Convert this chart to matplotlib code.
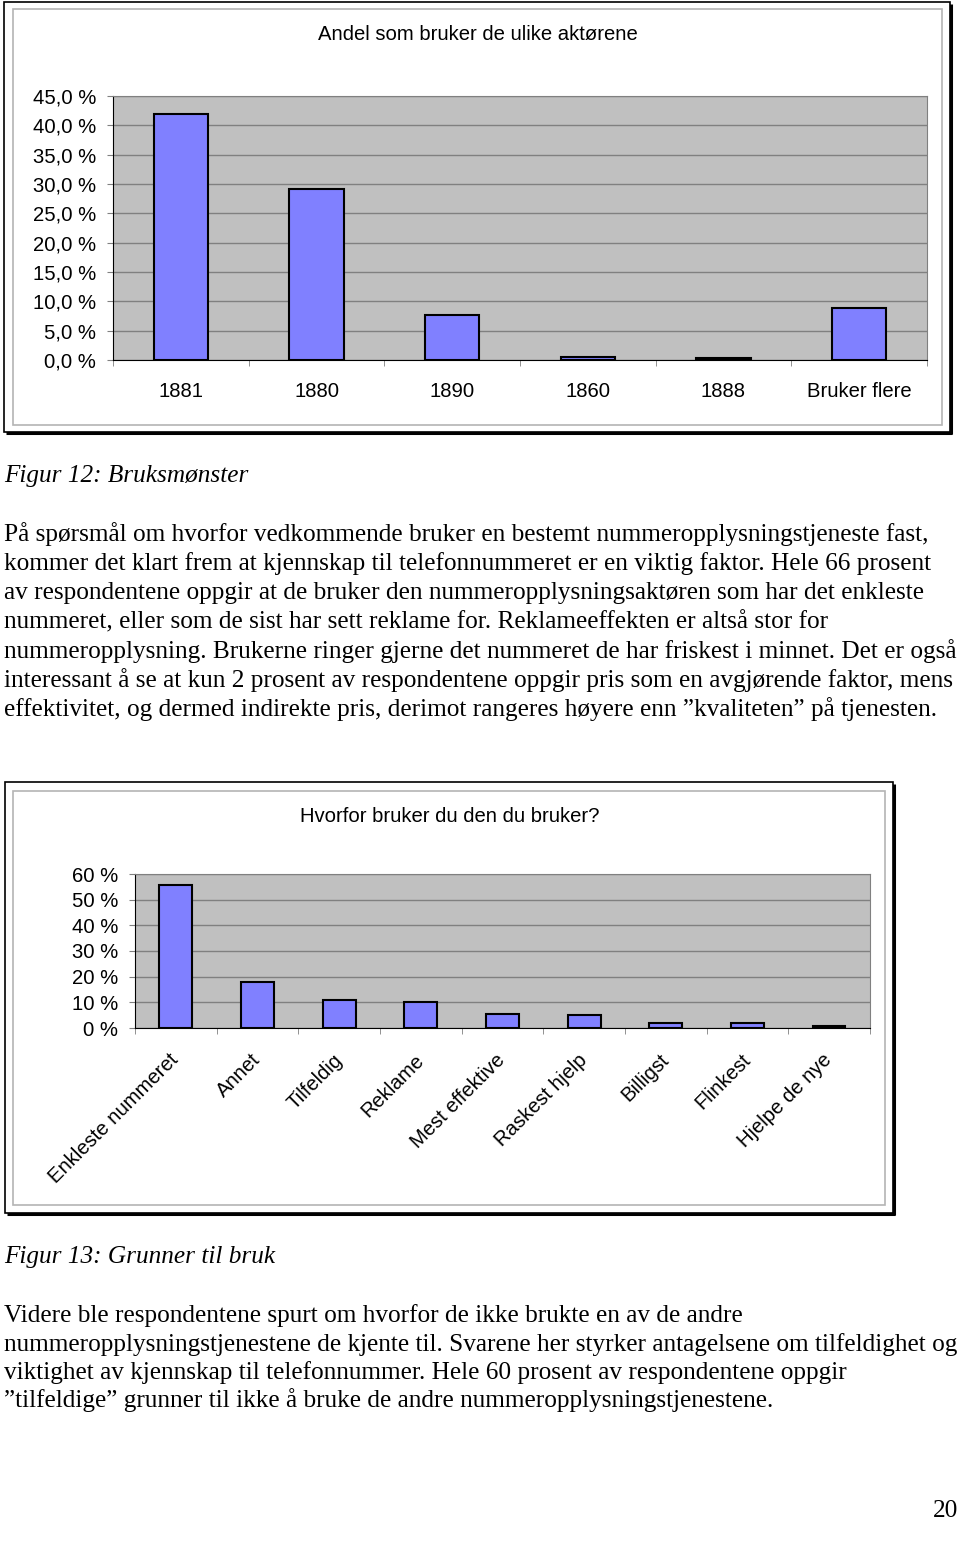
import matplotlib
matplotlib.use('Agg')
import matplotlib.pyplot as plt
from matplotlib.patches import Rectangle
import numpy as np

W, H = 960, 1547

# Figur 12: andel som bruker de ulike aktørene
aktorer = ['1881', '1880', '1890', '1860', '1888', 'Bruker flere']
andel = [42.0, 29.1, 7.6, 0.5, 0.3, 8.9]
andel_ticks = [0, 5, 10, 15, 20, 25, 30, 35, 40, 45]

# Figur 13: hvorfor bruker du den du bruker
grunner = ['Enkleste nummeret', 'Annet', 'Tilfeldig', 'Reklame', 'Mest effektive',
           'Raskest hjelp', 'Billigst', 'Flinkest', 'Hjelpe de nye']
grunner_andel = [55.6, 17.9, 11.0, 10.0, 5.3, 4.9, 1.9, 1.9, 0.6]
grunner_ticks = [0, 10, 20, 30, 40, 50, 60]

tekst1 = [
    'På spørsmål om hvorfor vedkommende bruker en bestemt nummeropplysningstjeneste fast,',
    'kommer det klart frem at kjennskap til telefonnummeret er en viktig faktor. Hele 66 prosent',
    'av respondentene oppgir at de bruker den nummeropplysningsaktøren som har det enkleste',
    'nummeret, eller som de sist har sett reklame for. Reklameeffekten er altså stor for',
    'nummeropplysning. Brukerne ringer gjerne det nummeret de har friskest i minnet. Det er også',
    'interessant å se at kun 2 prosent av respondentene oppgir pris som en avgjørende faktor, mens',
    'effektivitet, og dermed indirekte pris, derimot rangeres høyere enn \u201dkvaliteten\u201d på tjenesten.',
]
tekst2 = [
    'Videre ble respondentene spurt om hvorfor de ikke brukte en av de andre',
    'nummeropplysningstjenestene de kjente til. Svarene her styrker antagelsene om tilfeldighet og',
    'viktighet av kjennskap til telefonnummer. Hele 60 prosent av respondentene oppgir',
    '\u201dtilfeldige\u201d grunner til ikke å bruke de andre nummeropplysningstjenestene.',
]

SANS = 'Liberation Sans'
SERIF = 'Liberation Serif'
FS_CHART = 14.6
FS_BODY = 18.2

fig = plt.figure(figsize=(W / 100, H / 100), dpi=100)

# page layer in pixel coordinates
page = fig.add_axes([0, 0, 1, 1], zorder=0)
page.set_xlim(0, W)
page.set_ylim(H, 0)
page.axis('off')


def frame(l, t, r, b, il, it, ir, ib):
    page.add_patch(Rectangle((l, t), r - l, b - t, fill=False, ec='black', lw=1.2))
    page.plot([r + 1, r + 1], [t + 2, b + 2], color='black', lw=2.2, solid_capstyle='butt')
    page.plot([l + 2, r + 2], [b + 1, b + 1], color='black', lw=2.2, solid_capstyle='butt')
    page.add_patch(Rectangle((il, it), ir - il, ib - it, fill=False, ec='#b4b4b4', lw=1.2))


def bar_chart(l, t, r, b, cats, vals, ticks, fmt, rotate):
    ax = fig.add_axes([l / W, 1 - b / H, (r - l) / W, (b - t) / H], zorder=2)
    ax.set_facecolor('#C0C0C0')
    x = np.arange(len(cats))
    ax.bar(x, vals, width=0.4, color='#8080FF', edgecolor='black', linewidth=1.5, zorder=3)
    ax.set_xlim(-0.5, len(cats) - 0.5)
    ax.set_ylim(ticks[0], ticks[-1])
    ax.set_yticks(ticks)
    ax.set_yticklabels([fmt(v) for v in ticks], fontfamily=SANS, fontsize=FS_CHART)
    ax.yaxis.grid(True, color='#808080', lw=1)
    ax.set_axisbelow(True)
    ax.set_xticks(x)
    ax.set_xticks(np.arange(len(cats) + 1) - 0.5, minor=True)
    if rotate:
        ax.set_xticklabels(cats, fontfamily=SANS, fontsize=FS_CHART, rotation=45,
                           ha='right', va='center', rotation_mode='anchor')
        ax.tick_params(axis='x', which='major', length=0, pad=21)
    else:
        ax.set_xticklabels(cats, fontfamily=SANS, fontsize=FS_CHART)
        ax.tick_params(axis='x', which='major', length=0, pad=16)
    ax.tick_params(axis='x', which='minor', length=4, color='#808080')
    ax.tick_params(axis='y', length=4, color='#808080', pad=8)
    for s in ['top', 'right']:
        ax.spines[s].set_color('#808080')
    for s in ['left', 'bottom']:
        ax.spines[s].set_color('black')
    return ax


# Figur 12
frame(4, 2, 950, 432, 13, 9, 942, 425)
page.text(478, 34, 'Andel som bruker de ulike aktørene', fontfamily=SANS, fontsize=FS_CHART,
          ha='center', va='center')
bar_chart(113, 96, 927, 360, aktorer, andel, andel_ticks,
          lambda v: f'{v:.1f} %'.replace('.', ','), False)

page.text(4, 482, 'Figur 12: Bruksmønster', fontfamily=SERIF, fontsize=FS_BODY,
          style='italic', ha='left', va='baseline')
for i, line in enumerate(tekst1):
    page.text(4, 541 + 29.2 * i, line, fontfamily=SERIF, fontsize=FS_BODY,
              ha='left', va='baseline')

# Figur 13
frame(5, 782, 893, 1213, 13, 791, 885, 1205)
page.text(450, 816, 'Hvorfor bruker du den du bruker?', fontfamily=SANS, fontsize=FS_CHART,
          ha='center', va='center')
bar_chart(135, 874, 870, 1028, grunner, grunner_andel, grunner_ticks,
          lambda v: f'{v} %', True)

page.text(4, 1263, 'Figur 13: Grunner til bruk', fontfamily=SERIF, fontsize=FS_BODY,
          style='italic', ha='left', va='baseline')
for i, line in enumerate(tekst2):
    page.text(4, 1322 + 28.5 * i, line, fontfamily=SERIF, fontsize=FS_BODY,
              ha='left', va='baseline')

page.text(958, 1517, '20', fontfamily=SERIF, fontsize=FS_BODY, ha='right', va='baseline')

fig.savefig('out.png', dpi=100)
